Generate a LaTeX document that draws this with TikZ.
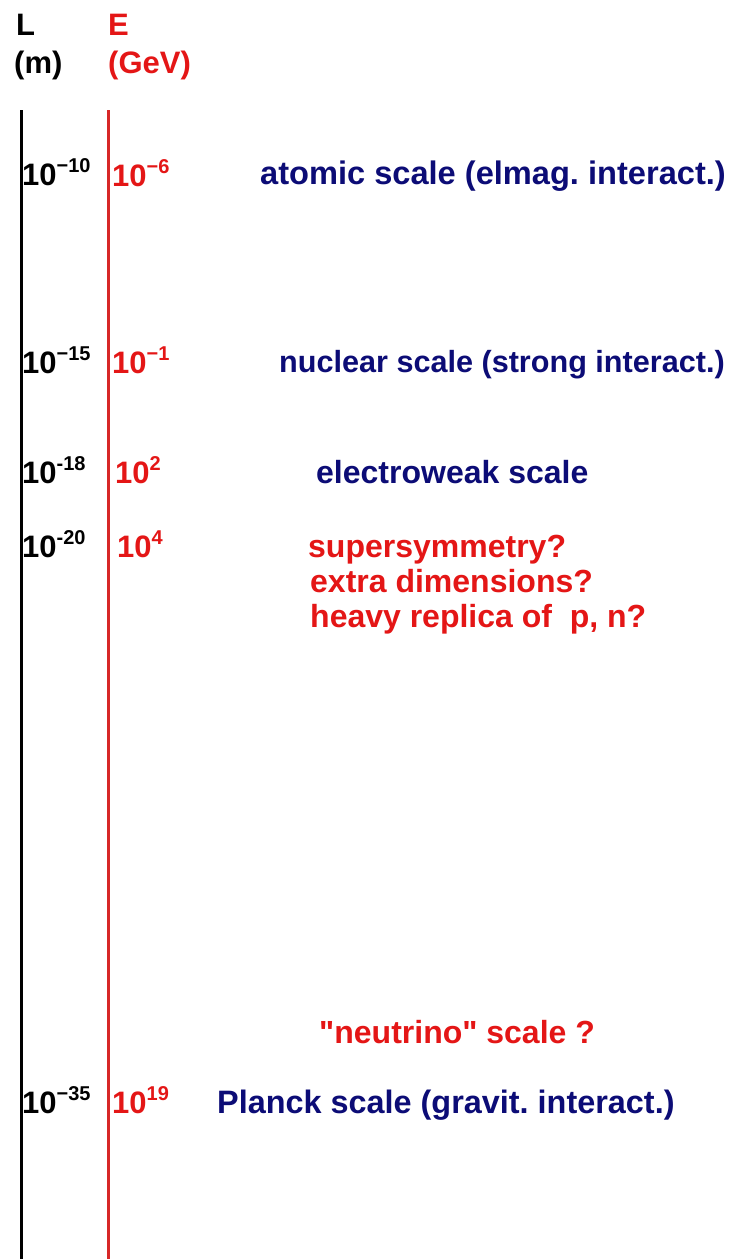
\documentclass[tikz,border=0pt]{standalone}
\usepackage{fontspec}
\setmainfont{Liberation Sans}
\newfontfamily\qfont{Liberation Sans}[Ligatures=TeXOff]
\frenchspacing
\definecolor{navy}{RGB}{12,12,118}
\definecolor{hired}{RGB}{228,22,22}
\definecolor{linered}{RGB}{215,40,40}
\newcommand{\tenp}[2]{10\raisebox{13pt}{\fontsize{20}{20}\selectfont #2}}
\newcommand{\sq}{{\qfont\bfseries "}}
\tikzset{
  lab/.style={anchor=base west, inner sep=0pt, font=\fontsize{31}{31}\selectfont\bfseries},
  txt/.style={anchor=base west, inner sep=0pt, font=\fontsize{32}{34.5}\selectfont\bfseries, align=left},
  axisline/.style={line width=3pt}
}
\begin{document}
\begin{tikzpicture}[x=1pt,y=-1pt]
\useasboundingbox[fill=white] (0,0) rectangle (731,1259);
% axes
\coordinate (Ltop) at (21,110);
\coordinate (Lbot) at (21,1259);
\coordinate (Etop) at (108,110);
\coordinate (Ebot) at (108,1259);
\draw[axisline, black] (Ltop) -- (Lbot);
\draw[axisline, linered] (Etop) -- (Ebot);
% headers
\node[lab, black] (hL) at (16,35) {L};
\node[lab, black] (hLu) at (14,73) {(m)};
\node[lab, hired] (hE) at (108,35) {E};
\node[lab, hired] (hEu) at (108,73) {(GeV)};
% L column
\node[lab, black] (l1) at (22,185) {\tenp{10}{−10}};
\node[lab, black] (l2) at (22,373) {\tenp{10}{−15}};
\node[lab, black] (l3) at (22,483) {\tenp{10}{-18}};
\node[lab, black] (l4) at (22,557) {\tenp{10}{-20}};
\node[lab, black] (l5) at (22,1113) {\tenp{10}{−35}};
% E column
\node[lab, hired] (e1) at (112,186) {\tenp{10}{−6}};
\node[lab, hired] (e2) at (112,373) {\tenp{10}{−1}};
\node[lab, hired] (e3) at (115,483) {\tenp{10}{2}};
\node[lab, hired] (e4) at (117,557) {\tenp{10}{4}};
\node[lab, hired] (e5) at (112,1113) {\tenp{10}{19}};
% descriptions
\node[txt, navy, font=\fontsize{32.6}{34.5}\selectfont\bfseries] (t1) at (260,184) {atomic scale (elmag. interact.)};
\node[txt, navy, font=\fontsize{30.6}{34.5}\selectfont\bfseries] (t2) at (279,372) {nuclear scale (strong interact.)};
\node[txt, navy] (t3) at (316,483) {electroweak scale};
\node[txt, hired] (t4) at (308,557) {supersymmetry?};
\node[txt, hired] (t5) at (310,592) {extra dimensions?};
\node[txt, hired] (t6) at (310,627) {heavy replica of \ p, n?};
\node[txt, hired] (t7) at (319,1043) {\sq neutrino\sq\ scale ?};
\node[txt, navy, font=\fontsize{32.4}{34.5}\selectfont\bfseries] (t8) at (217,1113) {Planck scale (gravit. interact.)};
\end{tikzpicture}
\end{document}
